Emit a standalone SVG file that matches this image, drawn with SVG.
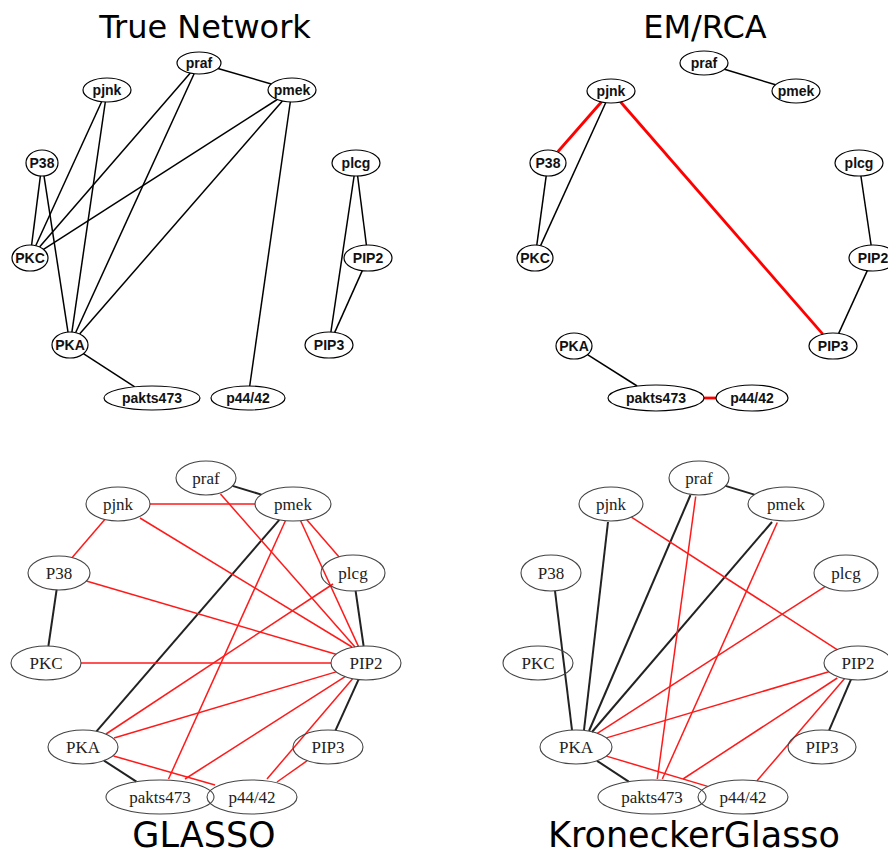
<svg xmlns="http://www.w3.org/2000/svg" width="888" height="854" viewBox="0 0 888 854">
<style>
.title{font-family:"DejaVu Sans",sans-serif;fill:#000;text-anchor:middle}
.t32{font-size:32px}
.t35{font-size:35px}
.nt ellipse{fill:#fff;stroke:#000;stroke-width:1.2}
.nt text{font-family:"Liberation Sans",Arial,sans-serif;font-weight:bold;font-size:14px;text-anchor:middle;fill:#111}
.nb ellipse{fill:none;stroke:#444;stroke-width:1.1}
.nb text{font-family:"Liberation Serif","Times New Roman",serif;font-size:17px;text-anchor:middle;fill:#222}
.eb{stroke:#000;stroke-width:1.5;fill:none}
.er{stroke:#ff0000;stroke-width:2.8;fill:none}
.ebk{stroke:#222;stroke-width:2;fill:none}
.erd{stroke:#ff1a1a;stroke-width:1.5;fill:none}
</style>
<rect width="888" height="854" fill="#fff"/>
<text class="title t32" x="205" y="38">True Network</text>
<text class="title t32" x="705" y="38">EM/RCA</text>
<text class="title t35" x="204" y="847">GLASSO</text>
<text class="title t35" x="694" y="847">KroneckerGlasso</text>

<g id="connectors">
<!-- True Network -->
<line class="eb" x1="218" y1="68.5" x2="271.2" y2="84"/>
<line class="eb" x1="101.6" y1="101.7" x2="35.7" y2="245.7"/>
<line class="eb" x1="105.3" y1="102" x2="71.9" y2="332.1"/>
<line class="eb" x1="190.3" y1="73.1" x2="39.5" y2="247"/>
<line class="eb" x1="194.1" y1="73.7" x2="75.6" y2="332.7"/>
<line class="eb" x1="277.2" y1="99.5" x2="43.5" y2="249.4"/>
<line class="eb" x1="282.4" y1="101" x2="79.6" y2="334"/>
<line class="eb" x1="290.3" y1="102" x2="249.7" y2="386"/>
<line class="eb" x1="40.4" y1="175.9" x2="31.6" y2="245.1"/>
<line class="eb" x1="44" y1="175.9" x2="68" y2="332.1"/>
<line class="eb" x1="83.4" y1="353.7" x2="134.7" y2="386.8"/>
<line class="eb" x1="357.6" y1="176" x2="366.4" y2="245"/>
<line class="eb" x1="354.1" y1="176" x2="330.9" y2="332"/>
<line class="eb" x1="362.3" y1="270.6" x2="334.7" y2="332.4"/>
<!-- EM/RCA -->
<line class="eb" x1="724.5" y1="69.2" x2="775.5" y2="84.8"/>
<line class="er" x1="601.4" y1="102" x2="557.6" y2="152"/>
<line class="eb" x1="605.7" y1="102.7" x2="540.6" y2="245.6"/>
<line class="eb" x1="546.2" y1="175.9" x2="536.8" y2="245.1"/>
<line class="er" x1="620.6" y1="102" x2="822.8" y2="334.2"/>
<line class="eb" x1="860.9" y1="176" x2="871.1" y2="245"/>
<line class="eb" x1="867.3" y1="270.6" x2="838.7" y2="333.4"/>
<line class="eb" x1="587.5" y1="354.6" x2="637.1" y2="386"/>
<line class="er" x1="704" y1="398" x2="716" y2="398"/>
<!-- GLASSO -->
<line class="ebk" x1="232.5" y1="485.9" x2="261.4" y2="494.6"/>
<line class="ebk" x1="56.6" y1="589.9" x2="48.4" y2="646"/>
<line class="ebk" x1="279.3" y1="519.8" x2="96.5" y2="731.3"/>
<line class="ebk" x1="355.6" y1="590.9" x2="363.6" y2="646"/>
<line class="ebk" x1="358.5" y1="679.6" x2="335.5" y2="730.4"/>
<line class="ebk" x1="104" y1="760.6" x2="136.4" y2="781.7"/>
<line class="erd" x1="150" y1="504" x2="255" y2="504"/>
<line class="erd" x1="104.8" y1="519.5" x2="72.2" y2="557.6"/>
<line class="erd" x1="140" y1="518" x2="352" y2="647"/>
<line class="erd" x1="220.5" y1="494" x2="355" y2="647"/>
<line class="erd" x1="306.8" y1="519.8" x2="338.9" y2="556.8"/>
<line class="erd" x1="300.6" y1="520.7" x2="358.4" y2="646.4"/>
<line class="erd" x1="285.4" y1="520.7" x2="168.5" y2="779"/>
<line class="erd" x1="86.3" y1="581" x2="336" y2="654.2"/>
<line class="erd" x1="81" y1="663" x2="331" y2="663"/>
<line class="erd" x1="333" y1="584" x2="106" y2="734"/>
<line class="erd" x1="336.1" y1="671.9" x2="114" y2="738"/>
<line class="erd" x1="345.1" y1="676.6" x2="185" y2="779"/>
<line class="erd" x1="352.6" y1="678.7" x2="267" y2="779"/>
<line class="erd" x1="307.2" y1="760.7" x2="277" y2="782"/>
<line class="erd" x1="113.5" y1="756" x2="215" y2="785"/>
<!-- KroneckerGlasso -->
<line class="ebk" x1="725.5" y1="485.9" x2="754.4" y2="494.6"/>
<line class="ebk" x1="608" y1="522" x2="584" y2="730"/>
<line class="ebk" x1="555" y1="591" x2="572" y2="730"/>
<line class="ebk" x1="690.5" y1="495" x2="589" y2="731"/>
<line class="ebk" x1="772" y1="522" x2="592" y2="732"/>
<line class="ebk" x1="850.9" y1="679.6" x2="829.1" y2="730.4"/>
<line class="ebk" x1="597" y1="760.8" x2="628.7" y2="781.7"/>
<line class="erd" x1="631.4" y1="517.1" x2="837.1" y2="649.6"/>
<line class="erd" x1="695.7" y1="496.5" x2="657.3" y2="779"/>
<line class="erd" x1="777.3" y1="522.5" x2="662.3" y2="779"/>
<line class="erd" x1="825" y1="586.6" x2="597.3" y2="733.3"/>
<line class="erd" x1="828.8" y1="671.7" x2="606.5" y2="737.9"/>
<line class="erd" x1="837.3" y1="678" x2="683" y2="779"/>
<line class="erd" x1="844.6" y1="678.6" x2="757" y2="780.8"/>
<line class="erd" x1="606.4" y1="756.1" x2="707.7" y2="786.4"/>
</g>

<!-- True Network nodes -->
<g id="tn-praf" class="nt"><ellipse cx="199" cy="63" rx="22" ry="11"/><text x="199" y="68">praf</text></g>
<g id="tn-pjnk" class="nt"><ellipse cx="107" cy="90" rx="24" ry="12"/><text x="107" y="95">pjnk</text></g>
<g id="tn-pmek" class="nt"><ellipse cx="292" cy="90" rx="24" ry="12"/><text x="292" y="95">pmek</text></g>
<g id="tn-P38" class="nt"><ellipse cx="42" cy="163" rx="16" ry="13"/><text x="42" y="168">P38</text></g>
<g id="tn-plcg" class="nt"><ellipse cx="356" cy="163" rx="24" ry="13"/><text x="356" y="168">plcg</text></g>
<g id="tn-PKC" class="nt"><ellipse cx="30" cy="258" rx="18" ry="13"/><text x="30" y="263">PKC</text></g>
<g id="tn-PIP2" class="nt"><ellipse cx="368" cy="258" rx="24" ry="13"/><text x="368" y="263">PIP2</text></g>
<g id="tn-PKA" class="nt"><ellipse cx="70" cy="345" rx="18" ry="13"/><text x="70" y="350">PKA</text></g>
<g id="tn-PIP3" class="nt"><ellipse cx="329" cy="345" rx="24" ry="13"/><text x="329" y="350">PIP3</text></g>
<g id="tn-pakts473" class="nt"><ellipse cx="152" cy="398" rx="48" ry="12"/><text x="152" y="403">pakts473</text></g>
<g id="tn-p4442" class="nt"><ellipse cx="248" cy="398" rx="37" ry="12"/><text x="248" y="403">p44/42</text></g>

<!-- EM/RCA nodes -->
<g id="em-praf" class="nt"><ellipse cx="704" cy="63" rx="24" ry="12"/><text x="704" y="68">praf</text></g>
<g id="em-pmek" class="nt"><ellipse cx="796" cy="91" rx="24" ry="12"/><text x="796" y="96">pmek</text></g>
<g id="em-pjnk" class="nt"><ellipse cx="611" cy="91" rx="24" ry="12"/><text x="611" y="96">pjnk</text></g>
<g id="em-P38" class="nt"><ellipse cx="548" cy="163" rx="18" ry="13"/><text x="548" y="168">P38</text></g>
<g id="em-plcg" class="nt"><ellipse cx="859" cy="163" rx="24" ry="13"/><text x="859" y="168">plcg</text></g>
<g id="em-PKC" class="nt"><ellipse cx="535" cy="258" rx="18" ry="13"/><text x="535" y="263">PKC</text></g>
<g id="em-PIP2" class="nt"><ellipse cx="873" cy="258" rx="24" ry="13"/><text x="873" y="263">PIP2</text></g>
<g id="em-PKA" class="nt"><ellipse cx="574" cy="346" rx="18" ry="13"/><text x="574" y="351">PKA</text></g>
<g id="em-PIP3" class="nt"><ellipse cx="833" cy="346" rx="24" ry="13"/><text x="833" y="351">PIP3</text></g>
<g id="em-pakts473" class="nt"><ellipse cx="656" cy="398" rx="48" ry="13"/><text x="656" y="403">pakts473</text></g>
<g id="em-p4442" class="nt"><ellipse cx="752" cy="398" rx="36" ry="13"/><text x="752" y="403">p44/42</text></g>

<!-- GLASSO nodes -->
<g id="gl-praf" class="nb"><ellipse cx="206" cy="478" rx="30" ry="17"/><text x="206" y="484">praf</text></g>
<g id="gl-pjnk" class="nb"><ellipse cx="118" cy="504" rx="32" ry="17"/><text x="118" y="510">pjnk</text></g>
<g id="gl-pmek" class="nb"><ellipse cx="293" cy="504" rx="38" ry="17"/><text x="293" y="510">pmek</text></g>
<g id="gl-P38" class="nb"><ellipse cx="59" cy="573" rx="31" ry="17"/><text x="59" y="579">P38</text></g>
<g id="gl-plcg" class="nb"><ellipse cx="353" cy="573" rx="32" ry="18"/><text x="353" y="579">plcg</text></g>
<g id="gl-PKC" class="nb"><ellipse cx="46" cy="663" rx="35" ry="17"/><text x="46" y="669">PKC</text></g>
<g id="gl-PIP2" class="nb"><ellipse cx="366" cy="663" rx="35" ry="17"/><text x="366" y="669">PIP2</text></g>
<g id="gl-PKA" class="nb"><ellipse cx="83" cy="747" rx="35" ry="17"/><text x="83" y="753">PKA</text></g>
<g id="gl-PIP3" class="nb"><ellipse cx="328" cy="747" rx="35" ry="17"/><text x="328" y="753">PIP3</text></g>
<g id="gl-pakts473" class="nb"><ellipse cx="160" cy="797" rx="54" ry="17"/><text x="160" y="803">pakts473</text></g>
<g id="gl-p4442" class="nb"><ellipse cx="252" cy="797" rx="45" ry="17"/><text x="252" y="803">p44/42</text></g>

<!-- KroneckerGlasso nodes -->
<g id="kg-praf" class="nb"><ellipse cx="699" cy="478" rx="30" ry="17"/><text x="699" y="484">praf</text></g>
<g id="kg-pjnk" class="nb"><ellipse cx="611" cy="504" rx="32" ry="17"/><text x="611" y="510">pjnk</text></g>
<g id="kg-pmek" class="nb"><ellipse cx="786" cy="504" rx="38" ry="17"/><text x="786" y="510">pmek</text></g>
<g id="kg-P38" class="nb"><ellipse cx="551" cy="573" rx="30" ry="18"/><text x="551" y="579">P38</text></g>
<g id="kg-plcg" class="nb"><ellipse cx="846" cy="573" rx="32" ry="18"/><text x="846" y="579">plcg</text></g>
<g id="kg-PKC" class="nb"><ellipse cx="538" cy="663" rx="35" ry="17"/><text x="538" y="669">PKC</text></g>
<g id="kg-PIP2" class="nb"><ellipse cx="858" cy="663" rx="34" ry="17"/><text x="858" y="669">PIP2</text></g>
<g id="kg-PKA" class="nb"><ellipse cx="576" cy="747" rx="36" ry="17"/><text x="576" y="753">PKA</text></g>
<g id="kg-PIP3" class="nb"><ellipse cx="822" cy="747" rx="34" ry="17"/><text x="822" y="753">PIP3</text></g>
<g id="kg-pakts473" class="nb"><ellipse cx="652" cy="797" rx="54" ry="17"/><text x="652" y="803">pakts473</text></g>
<g id="kg-p4442" class="nb"><ellipse cx="743" cy="797" rx="45" ry="17"/><text x="743" y="803">p44/42</text></g>
</svg>
